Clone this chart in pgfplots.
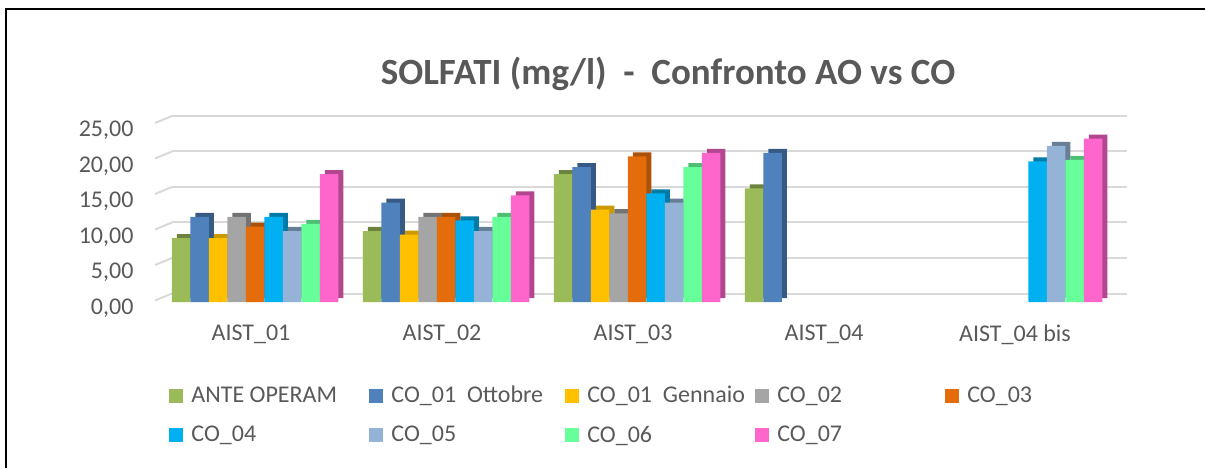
\documentclass[border=0pt]{standalone}
\usepackage{fontspec}
\setmainfont{Carlito}
\usepackage{pgfplots}
\usepackage{pgfplotstable}
\pgfplotsset{compat=1.18}
\definecolor{cA}{HTML}{9BBB59}
\definecolor{cB}{HTML}{4F81BD}
\definecolor{cC}{HTML}{FFC000}
\definecolor{cD}{HTML}{A5A5A5}
\definecolor{cE}{HTML}{E46C0A}
\definecolor{cF}{HTML}{00B0F0}
\definecolor{cG}{HTML}{95B3D7}
\definecolor{cH}{HTML}{66FF99}
\definecolor{cI}{HTML}{FF66CC}
\definecolor{txt}{HTML}{595959}
\definecolor{gridc}{HTML}{D9D9D9}
\pgfplotstableread{
x a b c d e f g h i
0 9 12 9 12 10.6 12 10 11 18
1 10 14 9.5 12 12 11.5 10 12 15
2 18 19 13 12.5 20.5 15.3 14 19 21
3 16 21 nan nan nan nan nan nan nan
4 nan nan nan nan nan 19.8 22 20 23
}\data
\newcommand\fs{\fontsize{12bp}{14bp}\selectfont}
\newcommand\legent[2]{\makebox[#1bp][l]{\hspace{2bp}#2}}
\begin{document}
\begin{tikzpicture}[x=1bp,y=1bp]
\useasboundingbox (0,0) rectangle (602.5,234);
\draw[line width=1bp] (3,0) -- (3,229.5) -- (602.5,229.5);
\node[font=\fontsize{18.5bp}{22bp}\selectfont\bfseries, text=txt] at (334,197) {SOLFATI (mg/l)\ \ -\ \ Confronto AO vs CO};
% back wall grid
\begin{axis}[at={(86bp,87.25bp)}, anchor=south west, scale only axis,
  width=477.5bp, height=88.75bp, xmin=0, xmax=1, ymin=0, ymax=25,
  axis line style={draw=none}, xtick=\empty, ytick={0,5,...,25}, yticklabels={},
  major tick length=0pt, ymajorgrids, major grid style={gridc, line width=1bp}, clip=false]
\pgfplotsinvokeforeach{0,5,10,15,20,25}{\draw[gridc, line width=1bp] (axis cs:0,#1) -- ++(-8.5bp,-3.5bp);}
\end{axis}
% depth copy
\begin{axis}[at={(82.25bp,85bp)}, anchor=south west, scale only axis,
  width=477.5bp, height=88.75bp, xmin=-0.5, xmax=4.5, ymin=0, ymax=25,
  hide axis, ybar=0pt, bar width=9.25bp,
  cycle list={{fill=cA!70!black,draw=none},{fill=cB!70!black,draw=none},{fill=cC!80!black,draw=none},
  {fill=cD!70!black,draw=none},{fill=cE!75!black,draw=none},{fill=cF!70!black,draw=none},
  {fill=cG!70!black,draw=none},{fill=cH!75!black,draw=none},{fill=cI!70!black,draw=none}}]
\addplot table[x=x,y=a]{\data};
\addplot table[x=x,y=b]{\data};
\addplot table[x=x,y=c]{\data};
\addplot table[x=x,y=d]{\data};
\addplot table[x=x,y=e]{\data};
\addplot table[x=x,y=f]{\data};
\addplot table[x=x,y=g]{\data};
\addplot table[x=x,y=h]{\data};
\addplot table[x=x,y=i]{\data};
\end{axis}
% front bars
\begin{axis}[at={(79.75bp,83bp)}, anchor=south west, scale only axis,
  width=477.5bp, height=88.75bp, xmin=-0.5, xmax=4.5, ymin=0, ymax=25,
  axis line style={draw=none}, major tick length=0pt,
  ybar=0pt, bar width=9.25bp,
  xtick={0,1,2,3,4}, xticklabels={AIST\_01,AIST\_02,AIST\_03,AIST\_04,AIST\_04 bis},
  xticklabel style={font=\fs, text=txt, yshift=-8bp, xshift=-2bp},
  ytick={0,5,...,25},
  yticklabel style={font=\fs, text=txt, xshift=-9.5bp, yshift=-3bp},
  /pgf/number format/.cd, fixed, zerofill, precision=2, use comma, 1000 sep={}, assume math mode=true,
  /pgfplots/.cd,
  cycle list={{fill=cA,draw=none},{fill=cB,draw=none},{fill=cC,draw=none},
  {fill=cD,draw=none},{fill=cE,draw=none},{fill=cF,draw=none},
  {fill=cG,draw=none},{fill=cH,draw=none},{fill=cI,draw=none}},
  legend columns=5,
  legend style={at={(0.01,-0.45)}, anchor=north west, draw=none, fill=none, font=\fs, text=txt,
    /tikz/every even column/.style={column sep=2bp}, row sep=6bp, inner sep=0pt},
  legend cell align=left,
  legend image code/.code={\fill[#1] (0bp,-3.5bp) rectangle (7bp,3.5bp);}]
\addplot table[x=x,y=a]{\data}; \addlegendentry{\legent{87}{ANTE OPERAM}}
\addplot table[x=x,y=b]{\data}; \addlegendentry{\legent{85}{CO\_01\ \ Ottobre}}
\addplot table[x=x,y=c]{\data}; \addlegendentry{\legent{82}{CO\_01\ \ Gennaio}}
\addplot table[x=x,y=d]{\data}; \addlegendentry{\legent{82}{CO\_02}}
\addplot table[x=x,y=e]{\data}; \addlegendentry{\legent{40}{CO\_03}}
\addplot table[x=x,y=f]{\data}; \addlegendentry{\legent{87}{CO\_04}}
\addplot table[x=x,y=g]{\data}; \addlegendentry{\legent{85}{CO\_05}}
\addplot table[x=x,y=h]{\data}; \addlegendentry{\legent{82}{CO\_06}}
\addplot table[x=x,y=i]{\data}; \addlegendentry{\legent{82}{CO\_07}}
\end{axis}
\end{tikzpicture}
\end{document}
